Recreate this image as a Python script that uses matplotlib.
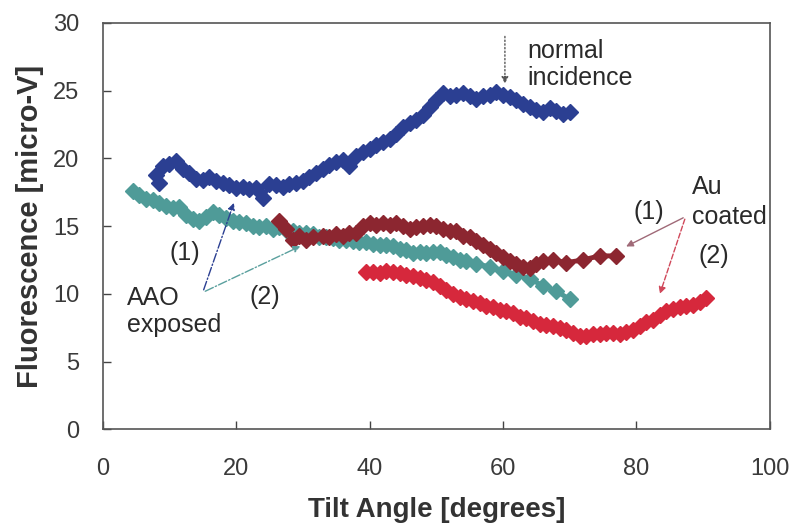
import matplotlib
matplotlib.use("Agg")
import matplotlib.pyplot as plt

plt.rcParams['font.family'] = ['Liberation Sans', 'DejaVu Sans']

# AAO exposed (1) - normal incidence
blue_x = [8, 8.5, 9, 10, 11, 12, 13, 14, 15, 16, 17, 18, 19, 20, 21, 22, 23, 24, 25, 26,
          27, 28, 29, 30, 31, 32, 33, 34, 35, 36, 37, 38, 39, 40, 41, 42, 43, 44, 45, 46,
          47, 48, 49, 50, 51, 52, 53, 54, 55, 56, 57, 58, 59, 60, 61, 62, 63, 64, 65, 66,
          67, 68, 69, 70]
blue_y = [18.8, 18.2, 19.4, 19.6, 19.8, 19.2, 18.9, 18.5, 18.4, 18.6, 18.3, 18.2, 18.0, 17.8, 17.9, 17.7, 17.8, 17.1, 18.1, 18.0,
          17.9, 18.1, 18.2, 18.3, 18.6, 18.9, 19.2, 19.5, 19.7, 19.9, 19.4, 20.2, 20.5, 20.7, 21.0, 21.2, 21.4, 21.8, 22.3, 22.6,
          22.8, 23.2, 23.8, 24.3, 24.8, 24.6, 24.7, 24.8, 24.6, 24.4, 24.6, 24.7, 24.9, 24.7, 24.5, 24.3, 24.0, 23.8, 23.6, 23.4,
          23.7, 23.5, 23.3, 23.4]

# AAO exposed (2)
teal_x = [4.5, 5.5, 6.5, 7.5, 8.5, 9.5, 10.5, 11.5, 12.5, 13.5, 14.5, 15.5, 16.5, 17.5, 18.5, 19.5, 20.5, 21.5, 22.5,
          23.5, 24.5, 25.5, 26.5, 27.5, 28.5, 29.5, 30.5, 31.5, 32.5, 33.5, 34.5, 35.5, 36.5, 37.5, 38.5, 39.5,
          40.5, 41.5, 42.5, 43.5, 44.5, 45.5, 46.5, 47.5, 48.5, 49.5, 50.5, 51.5, 52.5, 53.5, 54.5, 56, 58, 60,
          62, 64, 66, 68, 70]
teal_y = [17.6, 17.3, 17.0, 16.9, 16.7, 16.5, 16.3, 16.4, 15.8, 15.5, 15.4, 15.7, 16.0, 15.8, 15.6, 15.4, 15.3, 15.2, 15.0,
          14.9, 15.0, 14.8, 14.9, 14.7, 14.6, 14.5, 14.5, 14.4, 14.2, 14.2, 14.1, 14.0, 14.0, 13.9, 13.8, 13.8,
          13.7, 13.6, 13.6, 13.5, 13.3, 13.2, 13.0, 13.1, 13.0, 13.1, 13.1, 12.9, 12.7, 12.5, 12.4, 12.2, 12.0, 11.7,
          11.4, 11.1, 10.6, 10.2, 9.6]

# Au coated (1)
dred_x = [26.5, 27.5, 28.5, 29.5, 30.5, 31.5, 33, 34, 35, 36, 37, 38, 39, 40, 41, 42, 43, 44, 45, 46, 47,
          48, 49, 50, 51, 52, 53, 54, 55, 56, 57, 58, 59, 60, 61, 62, 63, 64, 65, 66, 67.5, 69.5, 72, 74.5, 77]
dred_y = [15.4, 14.8, 14.0, 14.3, 14.0, 14.2, 14.3, 14.2, 14.4, 14.3, 14.5, 14.5, 15.0, 15.2, 15.1, 15.2, 15.1, 15.2, 15.0, 14.8, 14.9,
          15.0, 15.1, 15.0, 14.8, 14.6, 14.6, 14.3, 14.2, 13.9, 13.6, 13.3, 13.0, 12.7, 12.4, 12.2, 12.0, 11.9, 12.2, 12.4, 12.5, 12.3, 12.5, 12.8, 12.8]

# Au coated (2)
red_x = [39.5, 40.5, 41.5, 42.5, 43.5, 44.5, 45.5, 46.5, 47.5, 48.5, 49.5, 50.5, 51.5, 52.5, 53.5, 54.5, 55.5,
         56.5, 57.5, 58.5, 59.5, 60.5, 61.5, 62.5, 63.5, 64.5, 65.5, 66.5, 67.5, 68.5, 69.5, 70.5, 71.5, 72.5,
         73.5, 74.5, 75.5, 76.5, 77.5, 78.5, 79.5, 80.5, 81.5, 82.5, 83.5, 84.5, 85.5, 86.5, 87.5, 88.5, 89.5, 90.5]
red_y = [11.6, 11.6, 11.5, 11.7, 11.6, 11.5, 11.4, 11.3, 11.2, 11.0, 10.9, 10.6, 10.3, 10.0, 9.8, 9.6, 9.5,
         9.3, 9.1, 9.0, 8.8, 8.7, 8.6, 8.3, 8.2, 8.0, 7.8, 7.7, 7.6, 7.5, 7.3, 7.1, 6.9, 6.9,
         7.0, 7.0, 7.1, 7.1, 7.0, 7.2, 7.3, 7.6, 7.9, 8.1, 8.4, 8.7, 8.9, 9.0, 9.1, 9.2, 9.4, 9.7]

fig = plt.figure(figsize=(7.96, 5.30), dpi=100)
ax = fig.add_axes([0.129, 0.19, 0.838, 0.767])

ax.plot(teal_x, teal_y, color='#4f9b98', lw=3.5, marker='D', ms=8, mec='#4f9b98')
ax.plot(blue_x, blue_y, color='#2b3f92', lw=3.5, marker='D', ms=8, mec='#2b3f92')
ax.plot(dred_x, dred_y, color='#8c2630', lw=3.5, marker='D', ms=8, mec='#8c2630')
ax.plot(red_x, red_y, color='#d6283c', lw=3.5, marker='D', ms=8, mec='#d6283c')

ax.set_xlim(0, 100)
ax.set_ylim(0, 30)
ax.set_xticks(range(0, 101, 20))
ax.set_yticks(range(0, 31, 5))
ax.tick_params(direction='in', length=6, width=1, colors='#444444', labelsize=17, labelcolor='#3a3a3a')
ax.tick_params(axis='x', pad=21)
ax.tick_params(axis='y', pad=17)
for s in ax.spines.values():
    s.set_color('#555555')
    s.set_linewidth(1.2)

ax.set_xlabel('Tilt Angle [degrees]', fontsize=20, fontweight='bold', color='#333333', labelpad=12)
ax.set_ylabel('Fluorescence [micro-V]', fontsize=21, fontweight='bold', color='#333333', labelpad=6)

txt = dict(fontsize=18, color='#2a2a2a')

# normal incidence
ax.annotate('', xy=(60.3, 25.3), xytext=(60.3, 29.2),
            arrowprops=dict(arrowstyle='-|>', color='#555555', lw=1, ls=':', mutation_scale=10))
ax.text(63.7, 26.9, 'normal\nincidence', ha='left', va='center', linespacing=1.15, **txt)

# Au coated
ax.text(88.3, 16.8, 'Au\ncoated', ha='left', va='center', linespacing=1.3, **txt)
ax.text(81.9, 16.0, '(1)', ha='center', va='center', **txt)
ax.text(91.6, 12.8, '(2)', ha='center', va='center', **txt)
ax.annotate('', xy=(78.1, 13.4), xytext=(87.4, 15.7),
            arrowprops=dict(arrowstyle='-|>', color='#a06a78', lw=1, mutation_scale=10))
ax.annotate('', xy=(83.4, 9.8), xytext=(87.4, 15.7),
            arrowprops=dict(arrowstyle='-|>', color='#d0485a', lw=1, ls='--', mutation_scale=10))

# AAO exposed
ax.text(12.3, 13.0, '(1)', ha='center', va='center', **txt)
ax.text(24.3, 9.8, '(2)', ha='center', va='center', **txt)
ax.text(3.6, 8.7, 'AAO\nexposed', ha='left', va='center', linespacing=1.15, **txt)
ax.annotate('', xy=(19.8, 16.9), xytext=(15.0, 10.1),
            arrowprops=dict(arrowstyle='-|>', color='#2b3f92', lw=1, ls='-.', mutation_scale=10))
ax.annotate('', xy=(30.0, 13.6), xytext=(15.0, 10.1),
            arrowprops=dict(arrowstyle='-|>', color='#5aa09e', lw=1, ls='-.', mutation_scale=10))

fig.savefig('out.png', dpi=100)
